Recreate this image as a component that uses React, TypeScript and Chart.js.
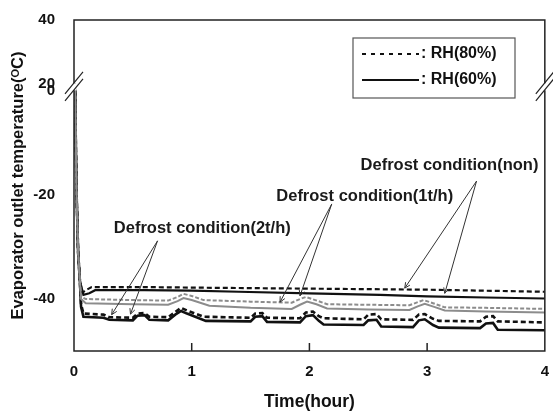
import React, { useEffect, useRef } from "react";
import { Chart, registerables } from "chart.js";

Chart.register(...registerables);

// ---------- data (temperature in °C vs time in hours) ----------
const X_TICKS = [0, 1, 2, 3, 4];
const Y_TICKS = [-40, -20, 0, 20, 40];
const Y_TICK_LABELS = ["-40", "-20", "0", "20", "40"];

// Defrost condition (non)
const NON_80_T = [0, 0.01, 0.02, 0.035, 0.05, 0.07, 0.1, 0.15, 0.6, 1.0, 1.5, 2.0, 2.5, 3.0, 3.5, 4.0];
const NON_80_V = [20, 2, -18, -31, -36.5, -38.8, -38.3, -37.7, -37.7, -37.8, -37.9, -38.0, -38.1, -38.2, -38.4, -38.6];
const NON_60_T = [0, 0.01, 0.02, 0.035, 0.05, 0.08, 0.13, 0.18, 0.6, 1.0, 1.4, 2.0, 2.6, 3.0, 3.5, 4.0];
const NON_60_V = [20, 2, -18, -31, -36.5, -39.2, -38.9, -38.3, -38.3, -38.4, -38.6, -38.9, -39.2, -39.5, -39.7, -39.9];

// Defrost condition (1t/h)
const D1_80_T = [0, 0.01, 0.02, 0.035, 0.05, 0.06, 0.1, 0.5, 0.8, 0.88, 0.93, 1.0, 1.1, 1.5, 1.85, 1.92, 1.97, 2.05, 2.15, 2.5, 2.85, 2.92, 2.97, 3.05, 3.15, 3.5, 4.0];
const D1_80_V = [20, 2, -18, -31, -36.5, -39.5, -40.0, -40.2, -40.3, -39.6, -39.0, -39.4, -40.2, -40.5, -40.7, -40.0, -39.6, -40.2, -41.0, -41.1, -41.2, -40.6, -40.2, -40.8, -41.6, -41.7, -41.9];
const D1_60_T = [0, 0.01, 0.02, 0.035, 0.05, 0.06, 0.1, 0.5, 0.8, 0.88, 0.93, 1.0, 1.15, 1.5, 1.85, 1.92, 1.98, 2.06, 2.15, 2.5, 2.85, 2.92, 2.98, 3.06, 3.15, 3.5, 4.0];
const D1_60_V = [20, 2, -18, -31, -36.5, -40.0, -40.8, -41.0, -41.1, -40.4, -39.8, -40.2, -41.3, -41.7, -41.9, -41.1, -40.5, -41.0, -41.8, -42.0, -42.1, -41.4, -40.9, -41.5, -42.2, -42.4, -42.6];

// Defrost condition (2t/h)
const D2_80_T = [0, 0.01, 0.02, 0.035, 0.05, 0.06, 0.08, 0.25, 0.3, 0.5, 0.54, 0.6, 0.64, 0.8, 0.86, 0.91, 0.96, 1.1, 1.5, 1.54, 1.6, 1.64, 1.92, 1.97, 2.03, 2.08, 2.12, 2.46, 2.5, 2.57, 2.61, 2.88, 2.93, 2.98, 3.05, 3.1, 3.45, 3.5, 3.56, 3.6, 4.0];
const D2_80_V = [20, 2, -18, -31, -36.5, -41.0, -42.8, -43.0, -43.5, -43.6, -42.8, -42.7, -43.4, -43.5, -42.5, -41.7, -42.2, -43.4, -43.6, -42.8, -42.7, -43.6, -43.7, -42.6, -42.4, -43.3, -43.7, -43.9, -43.0, -42.9, -43.9, -44.0, -43.0, -42.9, -43.8, -44.2, -44.3, -43.4, -43.3, -44.3, -44.5];
const D2_60_T = [0, 0.01, 0.02, 0.035, 0.05, 0.06, 0.08, 0.25, 0.3, 0.5, 0.54, 0.6, 0.64, 0.8, 0.86, 0.91, 0.96, 1.12, 1.5, 1.54, 1.6, 1.64, 1.92, 1.97, 2.03, 2.08, 2.12, 2.46, 2.5, 2.57, 2.61, 2.88, 2.93, 2.98, 3.05, 3.1, 3.45, 3.5, 3.56, 3.6, 4.0];
const D2_60_V = [20, 2, -18, -31, -36.5, -41.5, -43.4, -43.6, -44.0, -44.1, -43.2, -43.1, -44.0, -44.1, -43.0, -42.3, -42.8, -44.2, -44.3, -43.4, -43.3, -44.4, -44.5, -43.3, -43.1, -44.2, -44.9, -45.0, -44.1, -44.0, -45.3, -45.4, -44.1, -43.9, -45.0, -45.5, -45.6, -44.7, -44.6, -45.9, -46.0];

// annotation labels and arrow targets, in data units (hour, °C)
const NOTE_TEXTS = ["Defrost condition(2t/h)", "Defrost condition(1t/h)", "Defrost condition(non)"];
const NOTE_POS = [[1.09, -26.5], [2.47, -20.2], [3.19, -14.3]];
const NOTE_FROM = [[0.71, -28.8], [2.19, -21.7], [3.42, -17.3]];
const NOTE_TO = [
  [[0.32, -43.0], [0.48, -42.9]],
  [[1.75, -40.6], [1.92, -39.4]],
  [[2.81, -37.9], [3.15, -38.9]],
];
const LEGEND_LABELS = [": RH(80%)", ": RH(60%)"];

// ---------- broken y axis: 0..20 squeezed, 20..40 compressed ----------
const GAP = 1.5;
const UPPER_RATIO = 0.61;
function toDisplay(v: number): number {
  if (v <= 0) return v;
  if (v <= 20) return (v * GAP) / 20;
  return GAP + (v - 20) * UPPER_RATIO;
}

const FONT_FAMILY = "'Liberation Sans', Arial, sans-serif";
const BLACK = "#111111";
const GRAY = "#8c8c8c";

function series(t: number[], v: number[]) {
  return t.map((x, i) => ({ x, y: toDisplay(v[i]) }));
}

const overlayPlugin = {
  id: "overlay",
  afterDatasetsDraw(chart: any) {
    const { ctx, chartArea, scales } = chart;
    const xs = scales.x;
    const ys = scales.y;
    const { left, right, top, bottom } = chartArea;
    ctx.save();

    // frame
    ctx.strokeStyle = "#222";
    ctx.lineWidth = 1.5;
    ctx.setLineDash([]);
    ctx.strokeRect(left, top, right - left, bottom - top);

    // inner x ticks
    ctx.lineWidth = 1.5;
    X_TICKS.slice(1, -1).forEach((v) => {
      const px = xs.getPixelForValue(v);
      ctx.beginPath();
      ctx.moveTo(px, bottom);
      ctx.lineTo(px, bottom - 8);
      ctx.stroke();
    });

    // axis breaks
    const yc = ys.getPixelForValue(toDisplay(10));
    [left, right].forEach((ax) => {
      ctx.fillStyle = "#fff";
      ctx.fillRect(ax - 2.5, yc - 4, 5, 7);
      ctx.strokeStyle = "#222";
      ctx.lineWidth = 1.2;
      [-3.5, 3.5].forEach((off) => {
        ctx.beginPath();
        ctx.moveTo(ax - 9, yc + 10 + off);
        ctx.lineTo(ax + 9, yc - 12 + off);
        ctx.stroke();
      });
    });

    // legend
    const lx = 353, ly = 38, lw = 162, lh = 60;
    ctx.fillStyle = "#fff";
    ctx.fillRect(lx, ly, lw, lh);
    ctx.strokeStyle = "#555";
    ctx.lineWidth = 1.2;
    ctx.strokeRect(lx, ly, lw, lh);
    const rows = [ly + 16, ly + 42];
    rows.forEach((ry, i) => {
      ctx.strokeStyle = BLACK;
      ctx.lineWidth = 2;
      ctx.setLineDash(i === 0 ? [4, 5] : []);
      ctx.beginPath();
      ctx.moveTo(lx + 9, ry);
      ctx.lineTo(lx + 66, ry);
      ctx.stroke();
      ctx.setLineDash([]);
      ctx.fillStyle = BLACK;
      ctx.font = `bold 16px ${FONT_FAMILY}`;
      ctx.textAlign = "left";
      ctx.textBaseline = "middle";
      ctx.fillText(LEGEND_LABELS[i], lx + 68, ry);
    });

    // annotations
    ctx.font = `bold 16.5px ${FONT_FAMILY}`;
    ctx.textAlign = "center";
    ctx.textBaseline = "middle";
    NOTE_TEXTS.forEach((txt, i) => {
      const tx = xs.getPixelForValue(NOTE_POS[i][0]);
      const ty = ys.getPixelForValue(toDisplay(NOTE_POS[i][1]));
      ctx.fillStyle = "#1a1a1a";
      ctx.fillText(txt, tx, ty);
      const fx = xs.getPixelForValue(NOTE_FROM[i][0]);
      const fy = ys.getPixelForValue(toDisplay(NOTE_FROM[i][1]));
      NOTE_TO[i].forEach((p) => {
        const ex = xs.getPixelForValue(p[0]);
        const ey = ys.getPixelForValue(toDisplay(p[1]));
        ctx.strokeStyle = "#333";
        ctx.lineWidth = 1;
        ctx.beginPath();
        ctx.moveTo(fx, fy);
        ctx.lineTo(ex, ey);
        ctx.stroke();
        const ang = Math.atan2(ey - fy, ex - fx);
        const hl = 6;
        ctx.beginPath();
        ctx.moveTo(ex - hl * Math.cos(ang - 0.45), ey - hl * Math.sin(ang - 0.45));
        ctx.lineTo(ex, ey);
        ctx.lineTo(ex - hl * Math.cos(ang + 0.45), ey - hl * Math.sin(ang + 0.45));
        ctx.stroke();
      });
    });

    ctx.restore();
  },
};

export default function App() {
  const canvasRef = useRef<HTMLCanvasElement | null>(null);

  useEffect(() => {
    if (!canvasRef.current) return;
    const tickFont = { family: FONT_FAMILY, size: 15, weight: "bold" as const };
    const mk = (label: string, data: any, color: string, width: number, dash: number[]) => ({
      label,
      data,
      borderColor: color,
      backgroundColor: color,
      borderWidth: width,
      borderDash: dash,
      pointRadius: 0,
      tension: 0,
      fill: false,
    });
    const chart = new Chart(canvasRef.current, {
      type: "line",
      data: {
        datasets: [
          mk("1t/h RH(80%)", series(D1_80_T, D1_80_V), GRAY, 2, [4, 2]),
          mk("1t/h RH(60%)", series(D1_60_T, D1_60_V), GRAY, 2, []),
          mk("non RH(80%)", series(NON_80_T, NON_80_V), BLACK, 2.2, [5, 3]),
          mk("non RH(60%)", series(NON_60_T, NON_60_V), BLACK, 2.2, []),
          mk("2t/h RH(80%)", series(D2_80_T, D2_80_V), BLACK, 2.6, [5, 3]),
          mk("2t/h RH(60%)", series(D2_60_T, D2_60_V), BLACK, 2.6, []),
        ],
      },
      options: {
        animation: false,
        responsive: false,
        devicePixelRatio: 1,
        layout: { padding: { left: 0, right: 7, top: 16, bottom: 0 } },
        plugins: { legend: { display: false }, tooltip: { enabled: false } },
        scales: {
          x: {
            type: "linear",
            min: 0,
            max: 4,
            afterBuildTicks: (s: any) => {
              s.ticks = X_TICKS.map((v) => ({ value: v }));
            },
            afterFit: (s: any) => {
              s.height = 65;
            },
            grid: { display: false },
            border: { display: false },
            ticks: {
              autoSkip: false,
              maxRotation: 0,
              padding: 4,
              color: "#111",
              font: tickFont,
              callback: (v: any) => String(v),
            },
            title: {
              display: true,
              text: "Time(hour)",
              color: "#111",
              font: { family: FONT_FAMILY, size: 17.5, weight: "bold" },
              padding: { top: 0, bottom: 3 },
            },
          },
          y: {
            type: "linear",
            min: -50,
            max: toDisplay(40),
            afterBuildTicks: (s: any) => {
              s.ticks = Y_TICKS.map((v) => ({ value: toDisplay(v) }));
            },
            afterFit: (s: any) => {
              s.width = 74;
            },
            grid: { display: false },
            border: { display: false },
            ticks: {
              autoSkip: false,
              padding: 11,
              color: "#111",
              font: tickFont,
              callback: (_v: any, i: number) => Y_TICK_LABELS[i],
            },
            title: {
              display: true,
              text: "Evaporator outlet temperature(ᴼC)",
              color: "#111",
              font: { family: FONT_FAMILY, size: 16.5, weight: "bold" },
              padding: { top: 9, bottom: 0 },
            },
          },
        },
      } as any,
      plugins: [overlayPlugin],
    });
    return () => chart.destroy();
  }, []);

  return (
    <div style={{ position: "absolute", left: 0, top: 0, width: 553, height: 416, background: "#fff" }}>
      <canvas ref={canvasRef} width={553} height={416} style={{ display: "block" }} />
    </div>
  );
}
